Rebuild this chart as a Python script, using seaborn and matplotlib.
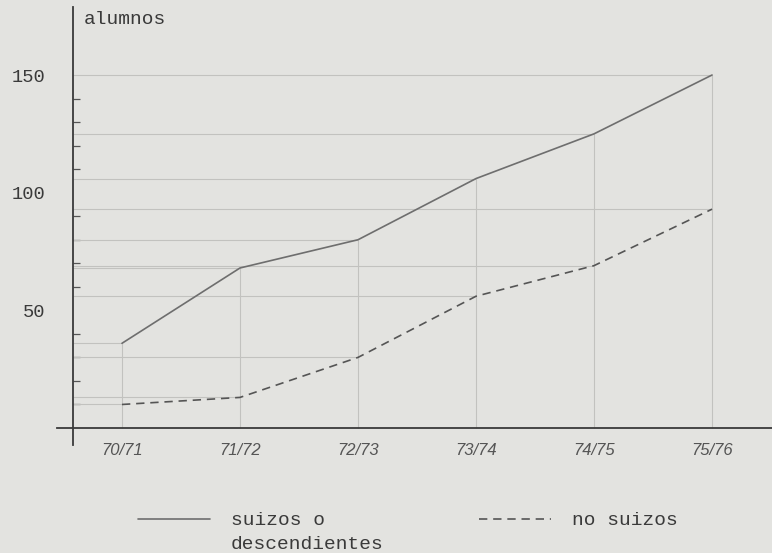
import matplotlib
matplotlib.use("Agg")
import matplotlib.pyplot as plt
from matplotlib.lines import Line2D
from matplotlib.ticker import FixedLocator
import seaborn as sns
import pandas as pd

# ---- data ----
cursos = ["70/71", "71/72", "72/73", "73/74", "74/75", "75/76"]
suizos = [36, 68, 80, 106, 125, 150]
no_suizos = [10, 13, 30, 56, 69, 93]
serie_suizos = "suizos o descendientes"
serie_no_suizos = "no suizos"
y_major = [50, 100, 150]
y_minor = [10, 20, 30, 40, 60, 70, 80, 90, 110, 120, 130, 140]

df = pd.DataFrame({
    "curso": list(range(len(cursos))) * 2,
    "alumnos": suizos + no_suizos,
    "serie": [serie_suizos] * len(cursos) + [serie_no_suizos] * len(cursos),
})

paper = "#e3e3e0"
ink = "#3a3a3a"
line_c = "#6e6e6e"
guide_c = "#c2c2bf"

sns.set_theme(style="white")
fig = plt.figure(figsize=(7.72, 5.53), dpi=100, facecolor=paper)
ax = fig.add_axes([50 / 772, (553 - 445) / 553, 722 / 772, 438 / 553])
ax.set_facecolor(paper)

yaxis_x = -0.415
ax.set_xlim(-0.61, 5.508)
ax.set_ylim(-7.22, 178.9)

# guide lines
idx = list(range(len(cursos)))
ax.hlines(suizos, yaxis_x, idx, color=guide_c, lw=0.8, zorder=1)
ax.hlines(no_suizos, yaxis_x, idx, color=guide_c, lw=0.8, zorder=1)
ax.vlines(idx, 0, suizos, color=guide_c, lw=0.8, zorder=1)

sns.lineplot(data=df, x="curso", y="alumnos", hue="serie", style="serie",
             palette={serie_suizos: line_c, serie_no_suizos: "#555555"},
             dashes={serie_suizos: "", serie_no_suizos: (5, 3.5)},
             linewidth=1.2, legend=False, ax=ax, zorder=3)

# axes / spines
for s in ["top", "right"]:
    ax.spines[s].set_visible(False)
ax.spines["left"].set_position(("data", yaxis_x))
ax.spines["bottom"].set_position(("data", 0))
ax.spines["bottom"].set_bounds(-0.55, 5.508)
for s in ["left", "bottom"]:
    ax.spines[s].set_color(ink)
    ax.spines[s].set_linewidth(1.3)

ax.set_xticks(idx)
ax.set_xticklabels(cursos)
ax.set_yticks(y_major)
ax.set_yticklabels([str(v) for v in y_major])
ax.yaxis.set_minor_locator(FixedLocator(y_minor))
ax.tick_params(axis="y", which="major", direction="inout", length=10, width=1.2,
               color=ink, pad=15, labelsize=13.5, labelcolor=ink)
ax.tick_params(axis="y", which="minor", direction="in", length=5, width=0.9,
               color="#555555", left=True)
ax.tick_params(axis="x", which="major", direction="inout", length=8, width=1.2,
               color=ink, pad=7, labelsize=12, labelcolor="#555555")
for lab in ax.get_yticklabels():
    lab.set_fontfamily("Liberation Mono")
for lab in ax.get_xticklabels():
    lab.set_fontfamily("Liberation Sans")
    lab.set_fontstyle("italic")
ax.set_xlabel("")
ax.set_ylabel("")

ax.annotate("alumnos", xy=(yaxis_x, 1), xycoords=("data", "axes fraction"),
            xytext=(8, -3), textcoords="offset points", va="top", ha="left",
            fontsize=14, family="Liberation Mono", color=ink)

handles = [
    Line2D([], [], color=line_c, lw=1.2),
    Line2D([], [], color="none"),
    Line2D([], [], color="#555555", lw=1.2, dashes=(5, 3.5)),
]
labels = ["suizos o", "descendientes", "no suizos"]
fig.legend(handles, labels, ncol=2, loc="upper left",
           bbox_to_anchor=(128 / 772, (553 - 502) / 553),
           frameon=False, borderpad=0, handlelength=3.7, handletextpad=1.1,
           columnspacing=4.9, labelspacing=0.3,
           prop={"family": "Liberation Mono", "size": 14}, labelcolor=ink)

fig.savefig("out.png", dpi=100, facecolor=paper)
